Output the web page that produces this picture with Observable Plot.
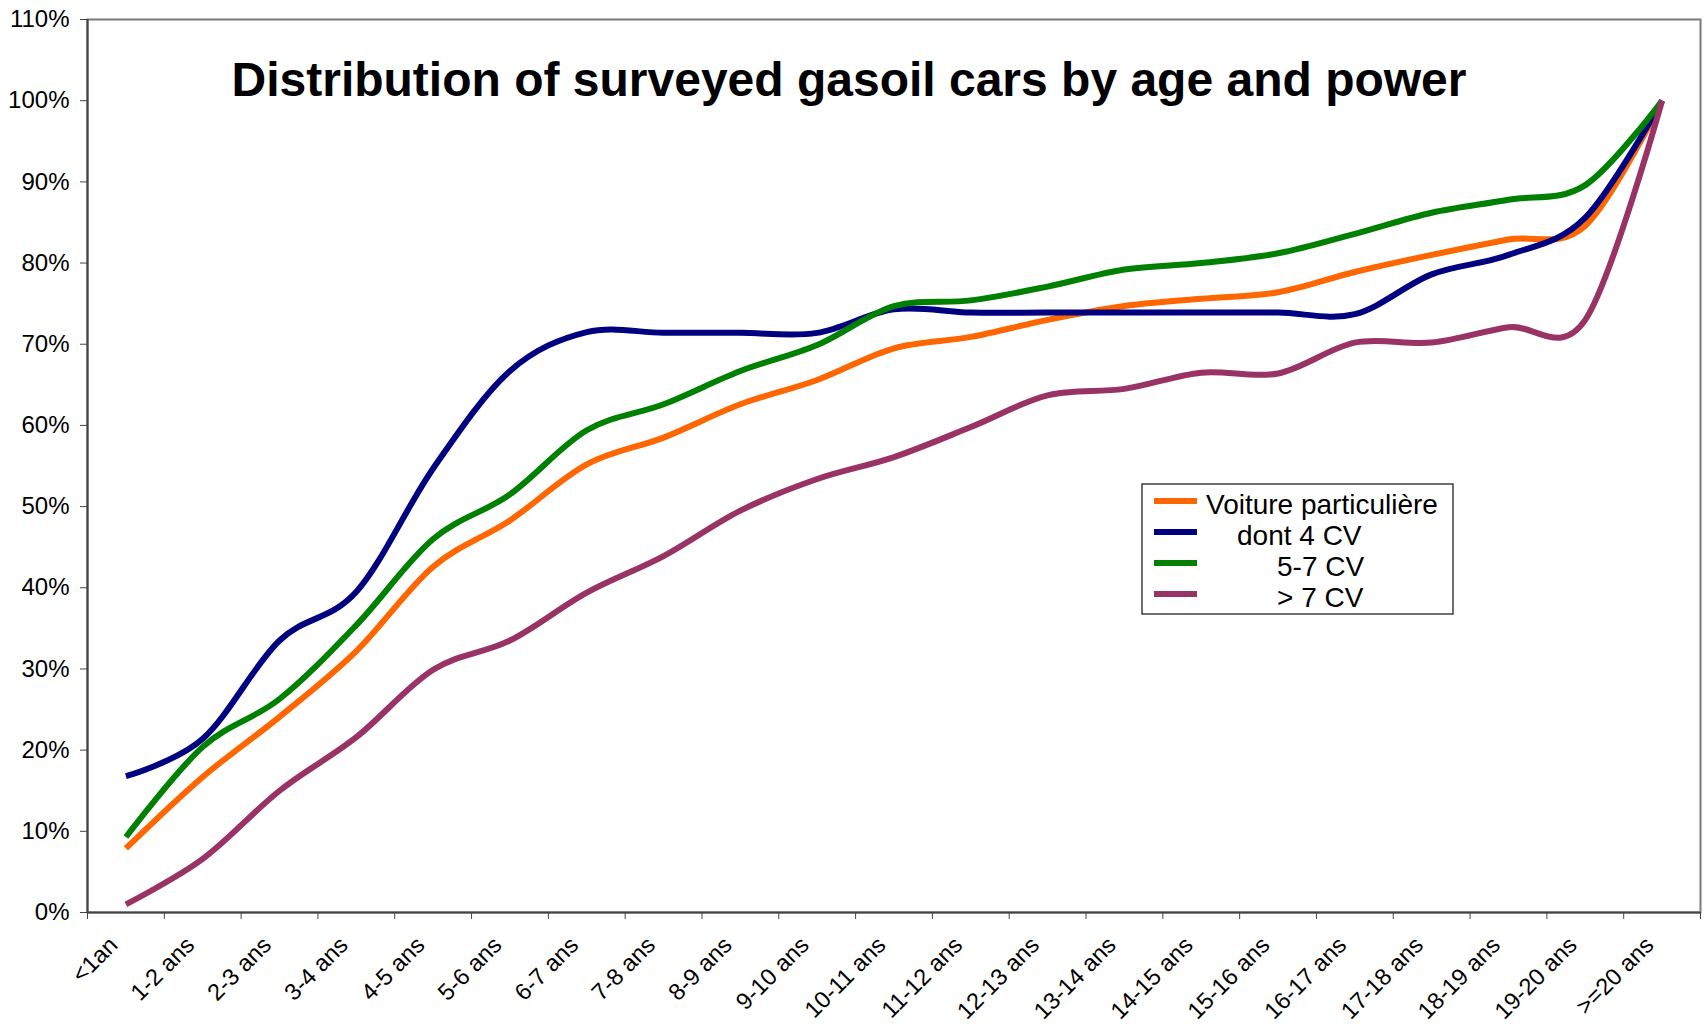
<!DOCTYPE html>
<html>
<head>
<meta charset="utf-8">
<script src="https://cdn.jsdelivr.net/npm/d3@7"></script>
<script src="https://cdn.jsdelivr.net/npm/@observablehq/plot@0.6"></script>
<style>
  html, body { margin: 0; padding: 0; background: #ffffff; }
  #chart { position: relative; width: 1705px; height: 1027px; }
</style>
</head>
<body>
<div id="chart"></div>
<script>
const title = "Distribution of surveyed gasoil cars by age and power";
const categories = ["<1an","1-2 ans","2-3 ans","3-4 ans","4-5 ans","5-6 ans","6-7 ans","7-8 ans","8-9 ans","9-10 ans",
  "10-11 ans","11-12 ans","12-13 ans","13-14 ans","14-15 ans","15-16 ans","16-17 ans","17-18 ans","18-19 ans","19-20 ans",">=20 ans"];
const seriesNames = ["Voiture particulière", "dont 4 CV", "5-7 CV", "> 7 CV"];
const legendLabels = ["Voiture particulière", "dont 4 CV", "5-7 CV", "> 7 CV"];
const seriesColors = ["#FF6600", "#000080", "#008000", "#993366"];
const voitureParticuliere = [7.9, 16.7, 24.1, 32.2, 42.6, 48.3, 55.2, 58.5, 62.6, 65.6, 69.5, 70.9, 73.0, 74.7, 75.6, 76.4, 78.9, 81.0, 82.9, 84.6, 100];
const dont4CV = [16.8, 21.4, 33.5, 39.5, 54.7, 66.7, 71.5, 71.4, 71.4, 71.4, 74.3, 73.9, 73.9, 73.9, 73.9, 73.9, 73.7, 78.6, 81.0, 85.6, 100];
const cv5a7 = [9.3, 20.4, 26.3, 35.4, 46.0, 51.5, 59.4, 62.6, 66.7, 69.9, 74.7, 75.4, 77.1, 79.2, 80.0, 81.2, 83.6, 86.2, 87.8, 89.6, 100];
const plus7CV = [1.0, 6.6, 15.0, 21.6, 29.9, 33.5, 39.4, 43.9, 49.5, 53.4, 56.1, 59.8, 63.7, 64.5, 66.5, 66.4, 70.2, 70.2, 72.1, 73.0, 100];
const yTicks = [0, 10, 20, 30, 40, 50, 60, 70, 80, 90, 100, 110];

const seriesValues = [voitureParticuliere, dont4CV, cv5a7, plus7CV];
const rows = seriesNames.flatMap((s, k) => seriesValues[k].map((v, i) => ({series: s, pos: i + 0.5, value: v})));
const bandEdges = d3.range(categories.length + 1);

const W = 1705, H = 1027, mL = 87, mR = 5, mT = 19, mB = 115;

const chart = Plot.plot({
  width: W, height: H,
  marginLeft: mL, marginRight: mR, marginTop: mT, marginBottom: mB,
  x: {domain: [0, categories.length], axis: null},
  y: {domain: [0, 110], axis: null},
  color: {domain: seriesNames, range: seriesColors},
  style: {fontFamily: "'Liberation Sans', Arial, sans-serif", background: "#ffffff", color: "#000000"},
  marks: [
    Plot.frame({stroke: "#7a7a7a", strokeWidth: 2}),
    Plot.axisY({ticks: yTicks, tickFormat: d => d + "%", tickSize: 7, tickPadding: 11, fontSize: 24,
      stroke: "#444444", fill: "#000000", label: null}),
    Plot.axisX({ticks: bandEdges, tickFormat: () => "", tickSize: 7, stroke: "#444444", label: null}),
    Plot.ruleX([0], {stroke: "#444444", strokeWidth: 2}),
    Plot.ruleY([0], {stroke: "#444444", strokeWidth: 2}),
    Plot.line(rows, {x: "pos", y: "value", z: "series", stroke: "series", strokeWidth: 6,
      curve: "cardinal", tension: 0, strokeLinecap: "butt", strokeLinejoin: "round"}),
    Plot.text(categories, {x: (d, i) => i + 0.5, text: d => d, frameAnchor: "bottom", dx: -7, dy: 34, rotate: -45,
      textAnchor: "end", lineAnchor: "bottom", fontSize: 23.5, fill: "#000000"}),
    Plot.text([title], {text: d => d, frameAnchor: "top", dx: -45, dy: 76, lineAnchor: "bottom",
      fontSize: 48, fontWeight: "bold", fill: "#000000"})
  ]
});

document.getElementById("chart").appendChild(chart);

// Legend (inside the plot area, as in the reference)
const svg = d3.select(chart);
const lg = svg.append("g").attr("font-family", "'Liberation Sans', Arial, sans-serif").attr("text-anchor", "start");
lg.append("rect").attr("x", 1142).attr("y", 484).attr("width", 311).attr("height", 130)
  .attr("fill", "#ffffff").attr("stroke", "#222222").attr("stroke-width", 1.3);
const rowY = [501, 532, 563, 594];
const textX = [1206, 1237, 1277, 1277];
legendLabels.forEach((lab, k) => {
  lg.append("line").attr("x1", 1154).attr("x2", 1197).attr("y1", rowY[k]).attr("y2", rowY[k])
    .attr("stroke", seriesColors[k]).attr("stroke-width", 6);
  lg.append("text").attr("x", textX[k]).attr("y", rowY[k] + 12.5).attr("font-size", 28)
    .attr("text-anchor", "start").attr("fill", "#000000").text(lab);
});
</script>
</body>
</html>
